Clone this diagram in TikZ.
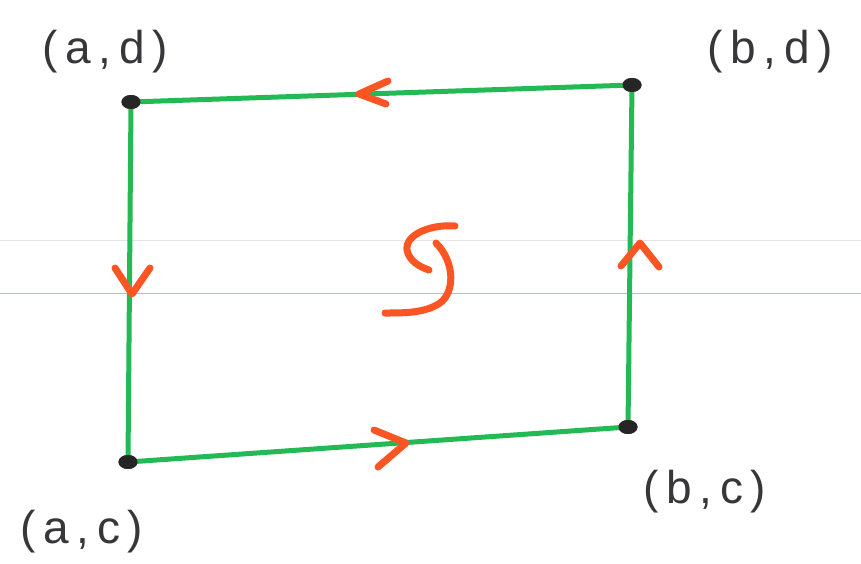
\documentclass[tikz,border=0pt]{standalone}
\usepackage{fontspec}
\setmainfont{Liberation Sans}
\usetikzlibrary{shapes.geometric}
\definecolor{pen}{RGB}{35,185,85}
\definecolor{redmark}{RGB}{250,85,35}
\definecolor{ink}{RGB}{55,55,58}
\begin{document}
\begin{tikzpicture}[x=1pt,y=-1pt,
  edge/.style={draw=pen,line width=5pt,line cap=round},
  chev/.style={draw=redmark,line width=7pt,line cap=round,line join=round},
  corner/.style={ellipse,fill=black!85,minimum width=19pt,minimum height=14pt,inner sep=0pt},
  lbl/.style={text=ink,font=\fontsize{46}{46}\selectfont}]
\useasboundingbox (0,0) rectangle (861,563);
\fill[white] (0,0) rectangle (861,563);
\draw[black!10,line width=1pt] (0,240) -- (861,240);
\draw[magenta!40,line width=1pt] (0,293) -- (861,293);
\node[corner] (ad) at (131,102) {};
\node[corner] (bd) at (632,85) {};
\node[corner] (bc) at (628,427) {};
\node[corner] (ac) at (128,462) {};
\draw[edge] (ad.center) -- (bd.center) -- (bc.center) -- (ac.center) -- cycle;
\node[corner] at (ad) {};
\node[corner] at (bd) {};
\node[corner] at (bc) {};
\node[corner] at (ac) {};
% arrow chevrons
\draw[chev] (388,81) -- (359,94) -- (386,104);
\draw[chev] (115,268) -- (132,294) -- (150,268);
\draw[chev] (374,430) -- (406,443) -- (378,467);
\draw[chev] (621,266) -- (640,243) -- (659,267);
% orientation symbol
\draw[chev] (455,226) .. controls (432,224) and (405,234) .. (407,250) .. controls (409,261) and (420,267) .. (429,270);
\draw[chev] (436,243) .. controls (455,262) and (455,292) .. (440,303) .. controls (425,313) and (405,313) .. (385,313);
% labels
\node[lbl] (tad) at (105,52) {(\,a\,,\,d\,)};
\node[lbl] (tbd) at (770,52) {(\,b\,,\,d\,)};
\node[lbl] (tbc) at (705,492) {(\,b\,,\,c\,)};
\node[lbl] (tac) at (82,532) {(\,a\,,\,c\,)};
\end{tikzpicture}
\end{document}
